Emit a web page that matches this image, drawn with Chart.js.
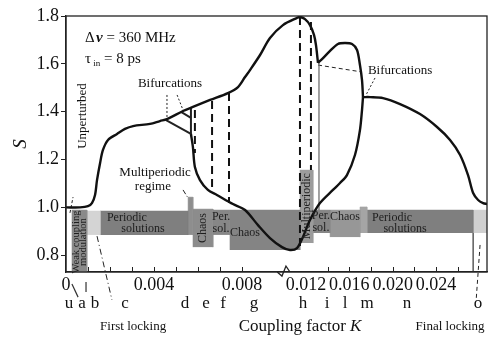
<!DOCTYPE html>
<html>
<head>
<meta charset="utf-8">
<script src="https://cdn.jsdelivr.net/npm/chart.js@4.4.1/dist/chart.umd.min.js"></script>
<style>
  html, body { margin: 0; padding: 0; background: #fff; }
  #wrap { width: 502px; height: 338px; }
</style>
</head>
<body>
<div id="wrap"><canvas id="chart"></canvas></div>
<script>
// ==========================
// DATA (K = coupling factor, S = output)
// ==========================

// main branch, from K = 0 up to the cusp
const branchAK = [0, 0.00064, 0.001, 0.00118, 0.00132, 0.00141, 0.00155, 0.00168, 0.00191, 0.00232, 0.00268, 0.00305, 0.00382, 0.00427, 0.00459, 0.00532, 0.00577, 0.00655, 0.00736, 0.00782, 0.00819, 0.0085, 0.00913, 0.00975, 0.01056, 0.01144, 0.01163, 0.01194, 0.01237, 0.01274, 0.01292, 0.01311];
const branchAS = [1.00, 1.00, 1.005, 1.018, 1.052, 1.114, 1.186, 1.240, 1.282, 1.307, 1.328, 1.340, 1.349, 1.361, 1.369, 1.403, 1.420, 1.449, 1.478, 1.503, 1.545, 1.574, 1.637, 1.708, 1.762, 1.792, 1.796, 1.787, 1.762, 1.721, 1.679, 1.604];
// second hump, cusp to right bifurcation
const branchBK = [0.01311, 0.01348, 0.01422, 0.01495, 0.0156, 0.01625, 0.01671, 0.01698, 0.01717, 0.01726];
const branchBS = [1.604, 1.620, 1.654, 1.683, 1.687, 1.683, 1.658, 1.595, 1.532, 1.461];
// tail to final locking
const branchCK = [0.01726, 0.01791, 0.01911, 0.02068, 0.02252, 0.02409, 0.02529, 0.02622, 0.02695, 0.02742, 0.02788, 0.02834, 0.02871];
const branchCS = [1.461, 1.461, 1.457, 1.432, 1.390, 1.336, 1.282, 1.219, 1.135, 1.060, 1.031, 1.018, 1.014];
// lower branch, back from right bifurcation to the left one
const lowerK = [0.01726, 0.01717, 0.01698, 0.01652, 0.01578, 0.01514, 0.01449, 0.01329, 0.01237, 0.01181, 0.01144, 0.011, 0.0105, 0.00975, 0.009, 0.00819, 0.00759, 0.00686, 0.00645, 0.00609, 0.00586, 0.00577, 0.00568];
const lowerS = [1.461, 1.407, 1.323, 1.219, 1.135, 1.102, 1.073, 1.018, 0.947, 0.876, 0.830, 0.822, 0.834, 0.872, 0.926, 0.989, 1.014, 1.052, 1.073, 1.114, 1.169, 1.252, 1.307];

// period doubling wedge
const wedgeK = [[0.00455, 0.00568], [0.00523, 0.00568], [0.00568, 0.00568]];
const wedgeS = [[1.365, 1.307], [1.399, 1.374], [1.420, 1.307]];

// dashed verticals (multiperiodic limits)
const dashK = [0.00586, 0.00664, 0.00741, 0.011625, 0.01246];
const dashTop = [1.407, 1.445, 1.478, 1.796, 1.775];
const dashBot = [1.227, 1.073, 1.018, 0.830, 1.156];
const cuspLineK = [0.0132, 0.0132];
const cuspLineS = [1.604, 0.989];

// regime blocks
const blockK0 = [0.00027, 0.00095, 0.00155, 0.00555, 0.00577, 0.00668, 0.00745, 0.011625, 0.01265, 0.01422, 0.01698, 0.01763, 0.02742];
const blockK1 = [0.00095, 0.00155, 0.00555, 0.00577, 0.00668, 0.00745, 0.011625, 0.01265, 0.01422, 0.01698, 0.01763, 0.02742, 0.0287];
const blockTop = [0.989, 0.985, 0.985, 1.043, 0.993, 0.989, 0.989, 1.156, 0.989, 0.989, 1.002, 0.989, 0.989];
const blockBot = [0.73, 0.885, 0.885, 0.885, 0.834, 0.885, 0.822, 0.851, 0.893, 0.876, 0.893, 0.893, 0.893];
const blockShade = ['#8a8a8a', '#d4d4d4', '#7f7f7f', '#8e8e8e', '#8c8c8c', '#878787', '#848484', '#9c9c9c', '#868686', '#979797', '#a5a5a5', '#7f7f7f', '#d0d0d0'];

// leader lines
const leadK = [[0.00459, 0.00459], [0.00505, 0.00532], [0.01311, 0.01717], [0.01837, 0.01754], [0.00532, 0.00555], [0.00018, 0.00032], [0.00141, 0.00209], [0.02806, 0.0277]];
const leadS = [[1.470, 1.378], [1.470, 1.407], [1.595, 1.566], [1.541, 1.470], [1.073, 1.039], [0.977, 1.043], [0.880, 0.613], [0.843, 0.613]];
const leadDash = [[2, 2], [2, 2], [4, 3], [2, 2], [5, 2, 1, 2], [3, 2], [6, 3, 1, 3], [4, 3]];
const tickLeadK = [[0.00027, 0.00055], [0.00091, 0.00091], [0.02742, 0.02742]];
const tickLeadS = [[0.680, 0.625], [0.688, 0.646], [0.893, 0.73]];

// axis break symbol
const zigK = [0.0102, 0.0105, 0.01075, 0.011];
const zigS = [0.73, 0.713, 0.755, 0.73];

// ticks
const xMajor = [0, 0.004, 0.008, 0.012, 0.016, 0.020, 0.024];
const xMarks = [0.001, 0.002, 0.003, 0.004, 0.005, 0.006, 0.007, 0.008, 0.014, 0.016, 0.018, 0.020, 0.022, 0.024, 0.026];
const yMajor = [0.8, 1.0, 1.2, 1.4, 1.6, 1.8];

// regime letters under the axis
const letterName = ['u', 'a', 'b', 'c', 'd', 'e', 'f', 'g', 'h', 'i', 'l', 'm', 'n', 'o'];
const letterK = [0.00014, 0.00073, 0.00132, 0.00268, 0.00541, 0.00636, 0.00714, 0.00875, 0.01181, 0.01394, 0.0156, 0.01763, 0.02132, 0.02788];

// ==========================
// BROKEN X SCALE
// ==========================

const xWarp = { k: [0, 0.008, 0.012, 0.0287], f: [0, 0.418, 0.570, 1] };

function warpDec(v) {
    const { k, f } = xWarp;
    let i = 0;
    while (i < k.length - 2 && v > k[i + 1]) i++;
    return f[i] + (v - k[i]) / (k[i + 1] - k[i]) * (f[i + 1] - f[i]);
}

function unwarp(d) {
    const { k, f } = xWarp;
    let i = 0;
    while (i < f.length - 2 && d > f[i + 1]) i++;
    return k[i] + (d - f[i]) / (f[i + 1] - f[i]) * (k[i + 1] - k[i]);
}

class WarpScale extends Chart.LinearScale {
    getPixelForValue(v) {
        if (v === null || v === undefined) return NaN;
        return this.getPixelForDecimal(warpDec(v));
    }
    getValueForPixel(p) {
        return unwarp(this.getDecimalForPixel(p));
    }
}
WarpScale.id = 'warp';
Chart.register(WarpScale);

// ==========================
// DATASETS
// ==========================

const SERIF = '"Liberation Serif", "DejaVu Serif", serif';
const pts = (ks, ss) => ks.map((k, i) => ({ x: k, y: ss[i] }));
const datasets = [];

[[branchAK, branchAS], [branchBK, branchBS], [branchCK, branchCS], [lowerK, lowerS]].forEach(([k, s]) => {
    datasets.push({ data: pts(k, s), borderColor: '#111', borderWidth: 2.4, pointRadius: 0, tension: 0.3, fill: false, order: 1 });
});

wedgeK.forEach((k, i) => {
    datasets.push({ data: pts(k, wedgeS[i]), borderColor: '#222', borderWidth: 2, pointRadius: 0, tension: 0, fill: false, order: 1 });
});

dashK.forEach((k, i) => {
    datasets.push({ data: pts([k, k], [dashTop[i], dashBot[i]]), borderColor: '#111', borderWidth: 2, borderDash: [8, 5], pointRadius: 0, fill: false, order: 1 });
});

datasets.push({ data: pts(cuspLineK, cuspLineS), borderColor: '#666', borderWidth: 1.2, pointRadius: 0, fill: false, order: 1 });

blockK0.forEach((k0, i) => {
    const k1 = blockK1[i], t = blockTop[i], b = blockBot[i];
    datasets.push({
        data: pts([k0, k0, k1, k1], [b, t, t, b]),
        fill: { value: b },
        backgroundColor: blockShade[i],
        borderColor: blockShade[i],
        borderWidth: 0.5,
        pointRadius: 0,
        tension: 0,
        order: 3
    });
});

leadK.forEach((k, i) => {
    datasets.push({ data: pts(k, leadS[i]), borderColor: '#222', borderWidth: 1, borderDash: leadDash[i], pointRadius: 0, fill: false, clip: false, order: 2 });
});

tickLeadK.forEach((k, i) => {
    datasets.push({ data: pts(k, tickLeadS[i]), borderColor: '#333', borderWidth: 1.2, pointRadius: 0, fill: false, clip: false, order: 2 });
});

datasets.push({ data: pts(zigK, zigS), borderColor: '#222', borderWidth: 1.3, pointRadius: 0, tension: 0, fill: false, clip: false, order: 1 });

// ==========================
// TEXT DECORATIONS
// ==========================

const blockLabels = [
    { t: 'Periodic', k: 0.00277, s: 0.956 }, { t: 'solutions', k: 0.0035, s: 0.910 },
    { t: 'Chaos', k: 0.00623, s: 0.914, rot: true },
    { t: 'Per.', k: 0.00705, s: 0.960 }, { t: 'sol.', k: 0.00705, s: 0.910 },
    { t: 'Chaos', k: 0.00819, s: 0.893 },
    { t: 'Multiperiodic', k: 0.0121, s: 1.005, rot: true },
    { t: 'Per.', k: 0.01338, s: 0.964 }, { t: 'sol.', k: 0.01338, s: 0.914 },
    { t: 'Chaos', k: 0.0156, s: 0.960 },
    { t: 'Periodic', k: 0.01994, s: 0.956 }, { t: 'solutions', k: 0.02114, s: 0.910 },
    { t: 'Weak coupling', k: 0.00045, s: 0.855, rot: true, size: 10.5 },
    { t: 'modulation', k: 0.00078, s: 0.855, rot: true, size: 10.5 }
];

const notes = [
    { t: 'Bifurcations', k: 0.00473, s: 1.516, size: 13 },
    { t: 'Bifurcations', k: 0.02068, s: 1.570, size: 13 },
    { t: 'Unperturbed', k: 0.00077, s: 1.382, size: 13, rot: true },
    { t: 'Multiperiodic', k: 0.00405, s: 1.144, size: 13 },
    { t: 'regime', k: 0.00395, s: 1.089, size: 13 },
    { t: 'First locking', k: 0.00305, s: 0.50, size: 13 },
    { t: 'Final locking', k: 0.02529, s: 0.50, size: 13 }
];

function put(ctx, text, px, py, size, rot, style) {
    ctx.font = (style ? style + ' ' : '') + size + 'px ' + SERIF;
    ctx.textAlign = 'center';
    ctx.textBaseline = 'middle';
    if (rot) {
        ctx.save();
        ctx.translate(px, py);
        ctx.rotate(-Math.PI / 2);
        ctx.fillText(text, 0, 0);
        ctx.restore();
    } else {
        ctx.fillText(text, px, py);
    }
}

// runs of differently styled text, left aligned
function runs(ctx, parts, px, py) {
    ctx.textAlign = 'left';
    ctx.textBaseline = 'alphabetic';
    let cx = px;
    parts.forEach(p => {
        ctx.font = (p.style ? p.style + ' ' : '') + p.size + 'px ' + SERIF;
        ctx.fillText(p.t, cx, py + (p.dy || 0));
        cx += ctx.measureText(p.t).width;
    });
}

const decor = {
    id: 'decor',
    afterDatasetsDraw(chart) {
        const { ctx, scales: { x, y } } = chart;
        ctx.save();
        ctx.fillStyle = '#1e1e1e';
        blockLabels.forEach(b => put(ctx, b.t, x.getPixelForValue(b.k), y.getPixelForValue(b.s), b.size || 12, b.rot));
        ctx.restore();
    },
    afterDraw(chart) {
        const { ctx, chartArea: a, scales: { x, y } } = chart;
        ctx.save();

        // frame
        ctx.strokeStyle = '#222';
        ctx.lineWidth = 1.3;
        ctx.strokeRect(a.left, a.top, a.right - a.left, a.bottom - a.top);

        // inward tick marks on the K axis
        ctx.lineWidth = 1;
        ctx.beginPath();
        xMarks.forEach(k => {
            const px = Math.round(x.getPixelForValue(k)) + 0.5;
            ctx.moveTo(px, a.bottom);
            ctx.lineTo(px, a.bottom - 5);
        });
        ctx.stroke();

        ctx.fillStyle = '#111';
        notes.forEach(n => put(ctx, n.t, x.getPixelForValue(n.k), y.getPixelForValue(n.s), n.size, n.rot));

        letterName.forEach((l, i) => put(ctx, l, x.getPixelForValue(letterK[i]), y.getPixelForValue(0.60), 17));

        // parameters
        const px0 = x.getPixelForValue(0.00086);
        runs(ctx, [
            { t: 'Δ', size: 15 }, { t: ' ', size: 6 }, { t: 'ν', size: 15, style: 'italic bold' },
            { t: ' = 360 MHz', size: 15 }
        ], px0, y.getPixelForValue(1.712) + 5);
        runs(ctx, [
            { t: 'τ', size: 15 }, { t: ' in', size: 9, dy: 3 }, { t: ' = 8 ps', size: 15 }
        ], px0, y.getPixelForValue(1.624) + 5);

        // axis title with italic K
        ctx.font = '17px ' + SERIF;
        const w1 = ctx.measureText('Coupling factor ').width;
        ctx.font = 'italic 17px ' + SERIF;
        const w2 = ctx.measureText('K').width;
        const cx = x.getPixelForValue(0.01163) - (w1 + w2) / 2;
        runs(ctx, [{ t: 'Coupling factor ', size: 17 }, { t: 'K', size: 17, style: 'italic' }], cx, y.getPixelForValue(0.508) + 6);

        ctx.restore();
    }
};

// ==========================
// CHART
// ==========================

new Chart(document.getElementById('chart'), {
    type: 'line',
    data: { datasets },
    options: {
        responsive: true,
        maintainAspectRatio: false,
        animation: false,
        devicePixelRatio: 1,
        layout: { padding: { top: 16, right: 15, left: 0, bottom: 0 } },
        plugins: { legend: { display: false }, tooltip: { enabled: false } },
        scales: {
            x: {
                type: 'warp',
                min: 0,
                max: 0.0287,
                afterFit: s => { s.height = 66; },
                afterBuildTicks: s => { s.ticks = xMajor.map(v => ({ value: v })); },
                grid: { display: false, drawTicks: false },
                border: { display: true, color: '#222', width: 1.3 },
                ticks: {
                    autoSkip: false,
                    maxRotation: 0,
                    padding: 2,
                    color: '#111',
                    font: { family: SERIF, size: 18 },
                    callback: v => v === 0 ? '0' : v.toFixed(3)
                }
            },
            y: {
                type: 'linear',
                min: 0.73,
                max: 1.8,
                afterFit: s => { s.width = 66; },
                afterBuildTicks: s => { s.ticks = yMajor.map(v => ({ value: v })); },
                grid: { display: true, drawOnChartArea: false, drawTicks: true, tickLength: 5, color: '#222' },
                border: { display: true, color: '#222', width: 1.3 },
                title: {
                    display: true,
                    text: 'S',
                    color: '#111',
                    padding: { top: 10, bottom: 0 },
                    font: { family: SERIF, size: 19, style: 'italic' }
                },
                ticks: {
                    padding: 2,
                    color: '#111',
                    font: { family: SERIF, size: 18 },
                    callback: v => v.toFixed(1)
                }
            }
        }
    },
    plugins: [decor]
});
</script>
</body>
</html>
